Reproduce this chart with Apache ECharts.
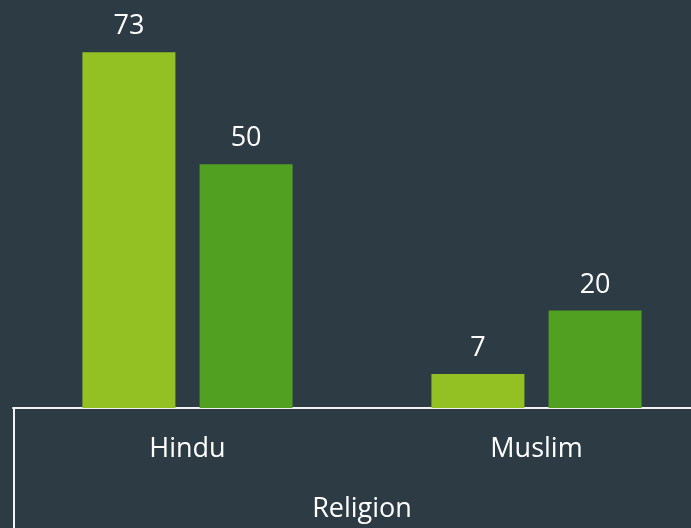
<!DOCTYPE html>
<html>
<head>
<meta charset="utf-8">
<script src="https://cdn.jsdelivr.net/npm/echarts@6/dist/echarts.min.js"></script>
<style>
  html, body { margin: 0; padding: 0; background: #2c3b44; overflow: hidden; }
  /* 画布比窗口略宽，右侧被裁掉 */
  #chart { width: 711px; height: 528px; }
</style>
</head>
<body>
<div id="chart"></div>
<script>
// data
var categories = ['Hindu', 'Muslim'];
var seriesA = [73, 7];
var seriesB = [50, 20];

var fontFamily = '"Open Sans", "Noto Sans", sans-serif';

var myChart = echarts.init(document.getElementById('chart'));

var option = {
    backgroundColor: '#2c3b44',
    animation: false,
    textStyle: { fontFamily: fontFamily },
    grid: {
        left: 13,
        right: 0,
        top: 18,
        bottom: 120,
        containLabel: false
    },
    xAxis: {
        type: 'category',
        data: categories,
        name: 'Religion',
        nameLocation: 'middle',
        nameGap: 88,
        nameTextStyle: { color: '#ffffff', fontSize: 27, fontFamily: fontFamily },
        axisLine: { show: true, lineStyle: { color: '#f2f2f2', width: 2 } },
        axisTick: { show: false },
        axisLabel: { color: '#ffffff', fontSize: 27, margin: 28, fontFamily: fontFamily }
    },
    yAxis: {
        type: 'value',
        min: 0,
        max: 80,
        show: false,
        splitLine: { show: false }
    },
    series: [
        {
            name: 'A',
            type: 'bar',
            data: seriesA,
            barWidth: 93,
            barGap: '26%',
            itemStyle: { color: '#93c123' },
            label: { show: true, position: 'top', distance: 12, color: '#ffffff', fontSize: 27, fontFamily: fontFamily }
        },
        {
            name: 'B',
            type: 'bar',
            data: seriesB,
            barWidth: 93,
            itemStyle: { color: '#52a021' },
            label: { show: true, position: 'top', distance: 12, color: '#ffffff', fontSize: 27, fontFamily: fontFamily }
        }
    ],
    // 表格左边框
    graphic: [
        {
            type: 'line',
            shape: { x1: 14, y1: 407, x2: 14, y2: 528 },
            style: { stroke: '#f2f2f2', lineWidth: 2 }
        }
    ]
};

myChart.setOption(option);
</script>
</body>
</html>
